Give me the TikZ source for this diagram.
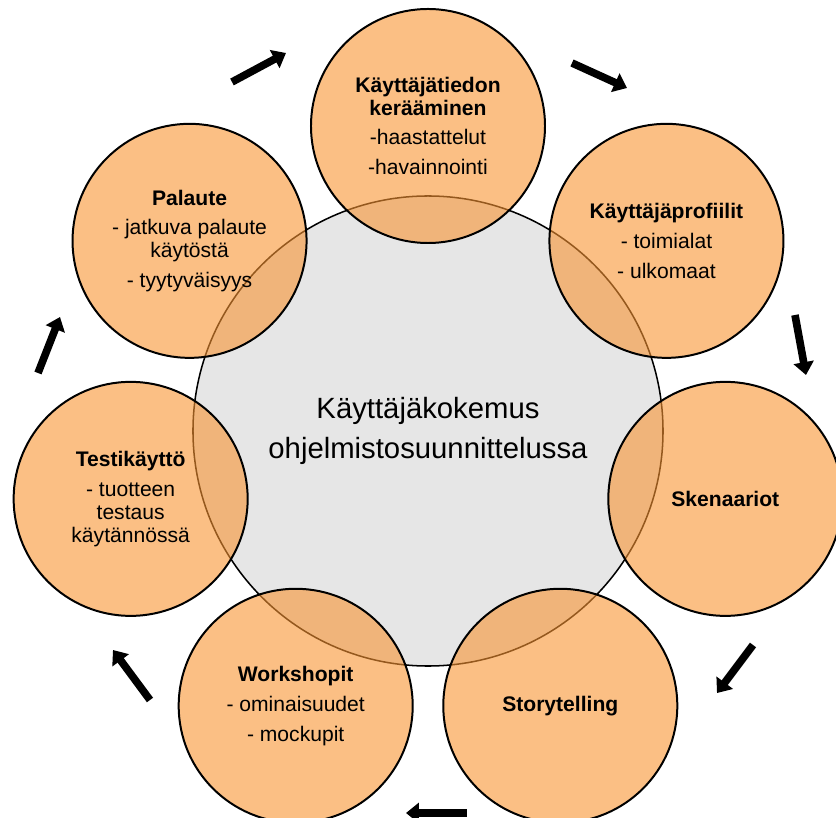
\documentclass[tikz,border=0pt]{standalone}
\usepackage{fontspec}
\setmainfont{Liberation Sans}
\usepackage[HTML]{xcolor}
\usetikzlibrary{arrows.meta}

\definecolor{oranssi}{RGB}{248,148,50}
\definecolor{harmaa}{RGB}{230,230,230}

\begin{document}
\begin{tikzpicture}[
    x=0.03cm, y=0.03cm, % one unit is one pixel of the reference
    every node/.style={font=\fontsize{18pt}{19.5pt}\selectfont, align=center},
    keskus/.style={circle, draw=black, line width=1.3pt, fill=harmaa,
        minimum size=14.1cm, inner sep=0pt, font=\fontsize{25pt}{34pt}\selectfont},
    vaihe/.style={circle, draw=black, line width=1.7pt, fill=oranssi,
        fill opacity=0.6, text opacity=1, minimum size=7.02cm, inner sep=0pt},
    kierto/.style={-{Triangle[length=11pt, width=17pt]}, line width=6.5pt}
]
    % Fix the page to the size of the reference
    \useasboundingbox (-428,-387) rectangle (408,431);
    \clip (-428,-387) rectangle (408,431);

    % The big grey circle in the middle
    \node[keskus] (Kokemus) at (0,0)
        {K\"aytt\"aj\"akokemus\\ohjelmistosuunnittelussa};

    % The seven phases, placed round the middle (polar coordinates)
    \node[vaihe] (Keraaminen) at (90:305)
        {\textbf{K\"aytt\"aj\"atiedon}\\\textbf{ker\"a\"aminen}\\[6pt]-haastattelut\\[6pt]-havainnointi};
    % Right of the top one
    \node[vaihe] (Profiilit) at (38.57:305)
        {\textbf{K\"aytt\"aj\"aprofiilit}\\[6pt]- toimialat\\[6pt]- ulkomaat};
    \node[vaihe] (Skenaariot) at (-12.86:305) {\textbf{Skenaariot}};
    \node[vaihe] (Storytelling) at (-64.29:305) {\textbf{Storytelling}};
    % Bottom left
    \node[vaihe] (Workshopit) at (-115.71:305)
        {\textbf{Workshopit}\\[6pt]- ominaisuudet\\[6pt]- mockupit};
    \node[vaihe] (Testikaytto) at (-167.14:305)
        {\textbf{Testik\"aytt\"o}\\[6pt]- tuotteen\\testaus\\k\"ayt\"ann\"oss\"a};
    \node[vaihe] (Palaute) at (141.43:305)
        {\textbf{Palaute}\\[6pt]- jatkuva palaute\\k\"ayt\"ost\"a\\[6pt]- tyytyv\"aisyys};

    % Ends of the arrows between the circles
    \coordinate (n1a) at (-196,349); \coordinate (n1b) at (-142,378);
    \coordinate (n2a) at (144,368);  \coordinate (n2b) at (199,343);
    \coordinate (n3a) at (367,116);  \coordinate (n3b) at (378,56);
    \coordinate (n4a) at (325,-214); \coordinate (n4b) at (289,-262);
    \coordinate (n5a) at (39,-382);  \coordinate (n5b) at (-22,-382);
    \coordinate (n6a) at (-278,-269); \coordinate (n6b) at (-315,-219);
    \coordinate (n7a) at (-390,58);  \coordinate (n7b) at (-368,114);

    % 1. Palaute to the top circle
    \draw[kierto] (n1a) -- (n1b);
    % 2. Top circle to Profiilit
    \draw[kierto] (n2a) -- (n2b);
    % 3. Profiilit to Skenaariot
    \draw[kierto] (n3a) -- (n3b);
    % 4. Skenaariot to Storytelling
    \draw[kierto] (n4a) -- (n4b);
    % 5. Storytelling to Workshopit
    \draw[kierto] (n5a) -- (n5b);
    % 6. Workshopit to Testikaytto
    \draw[kierto] (n6a) -- (n6b);
    % 7. Testikaytto to Palaute
    \draw[kierto] (n7a) -- (n7b);

\end{tikzpicture}
\end{document}
